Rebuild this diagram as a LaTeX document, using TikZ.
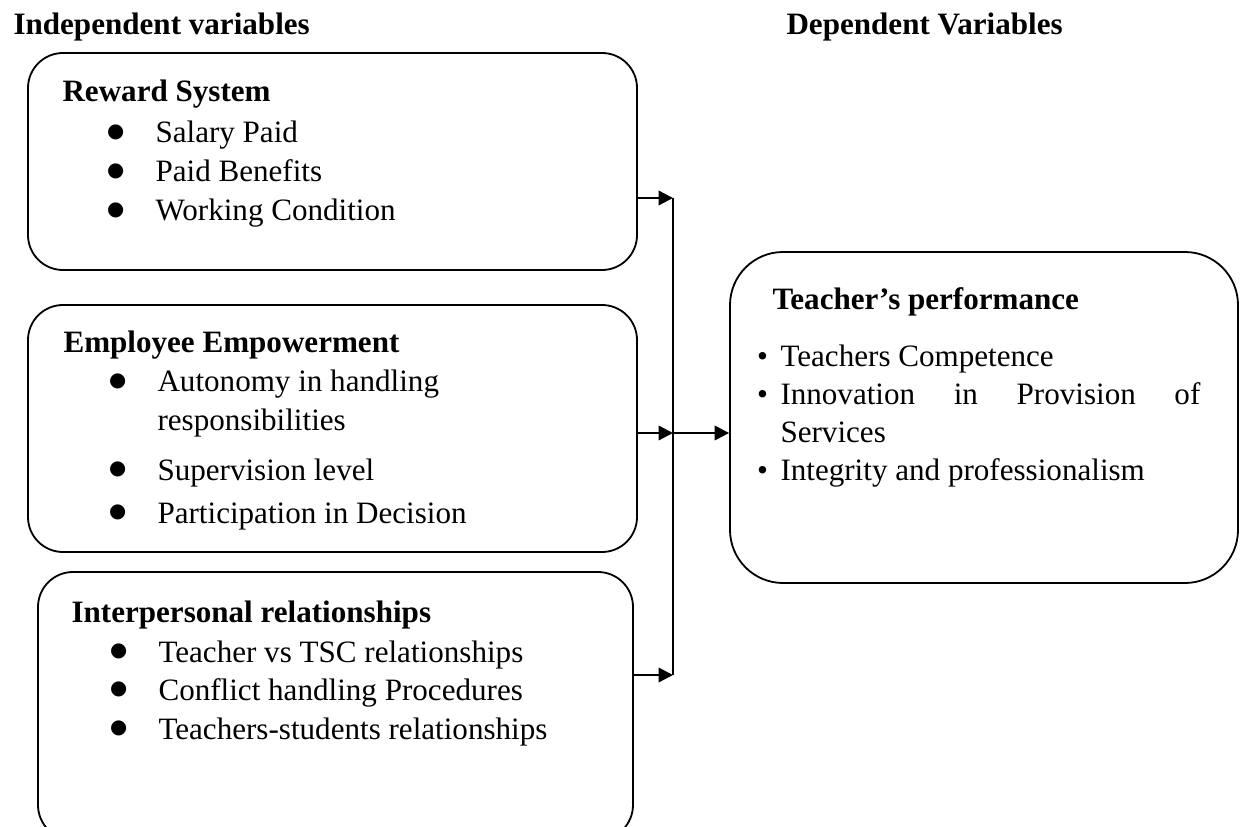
\documentclass[tikz,border=0pt]{standalone}
\usepackage{fontspec}
\setmainfont{Liberation Serif}
\newfontfamily\symfont{DejaVu Sans}
\usetikzlibrary{arrows.meta, positioning, fit}
\tikzset{
  box/.style={rectangle, rounded corners=0.475cm, draw=black,
              line width=0.7pt, inner sep=0pt},
  bigbox/.style={box, rounded corners=0.72cm},
  txt/.style={anchor=base west, inner sep=0pt,
              font=\fontsize{12}{15}\selectfont},
  head/.style={txt, font=\fontsize{12}{15}\selectfont\bfseries},
  arrow/.style={-{Triangle[length=5.6pt, width=5.6pt]}, line width=0.85pt,
                draw=black},
  link/.style={draw=black, line width=0.4pt},
}
\newcommand{\bigbul}{\llap{\makebox[0pt]{\raisebox{2.2pt}{\symfont\fontsize{7.6}{7.6}\selectfont ●}}\hspace{15.4pt}}}
\newcommand{\smallbul}{\llap{\makebox[0pt]{\textbullet}\hspace{6.9pt}}}

\begin{document}
\begin{tikzpicture}[x=0.01356cm, y=-0.01356cm]
  \useasboundingbox (0,0) rectangle (1248,827);
  \clip (0,0) rectangle (1248,827);

  \node[head] (indep) at (13,35) {Independent variables};
  \node[head] (dep) at (786,35) {Dependent Variables};

  % boxes
  \node[box, fit={(28,53) (637,270)}] (reward) {};
  \node[box, fit={(28,305) (637,552)}] (empower) {};
  \node[box, fit={(38,572) (633,840)}] (inter) {};
  \node[bigbox, fit={(730,252) (1238,583)}] (perf) {};

  \node[head] (rewardhd) at (62,102) {Reward System};
  \node[txt] (salary) at (155,143) {\bigbul Salary Paid};
  \node[txt] (benefits) at (155,182) {\bigbul Paid Benefits};
  \node[txt] (working) at (155,221) {\bigbul Working Condition};

  \node[head] (emphd) at (63,353) {Employee Empowerment};
  \node[txt] (autonomy) at (157,392) {\bigbul Autonomy in handling};
  \node[txt] (autonomy2) at (157,430) {responsibilities};
  \node[txt] (supervision) at (157,480) {\bigbul Supervision level};
  \node[txt] (participation) at (157,523) {\bigbul Participation in Decision};

  \node[head] (interhd) at (71,622) {Interpersonal relationships};
  \node[txt] (tsc) at (158,662) {\bigbul Teacher vs TSC relationships};
  \node[txt] (conflict) at (158,700) {\bigbul Conflict handling Procedures};
  \node[txt] (students) at (158,739) {\bigbul Teachers-students relationships};

  \node[head] (perfhd) at (772,310) {Teacher's performance};
  \node[txt] (competence) at (780,367) {\smallbul Teachers Competence};
  \node[txt, text width=5.695cm, align=left] (innovation) at (780,405)
    {\smallbul Innovation\hfill in\hfill Provision\hfill of};
  \node[txt] (services) at (780,442) {Services};
  \node[txt] (integrity) at (780,480) {\smallbul Integrity and professionalism};

  % joining line and arrows
  \coordinate (jtop) at (673,198);
  \coordinate (jmid) at (673,433);
  \coordinate (jbot) at (673,675);
  \draw[link] (jtop) -- (jbot);
  \draw[arrow] (reward.east |- jtop) -- (jtop);
  \draw[arrow] (empower.east |- jmid) -- (jmid);
  \draw[arrow] (inter.east |- jbot) -- (jbot);
  \draw[arrow] (jmid) -- (perf.west |- jmid);
\end{tikzpicture}
\end{document}
